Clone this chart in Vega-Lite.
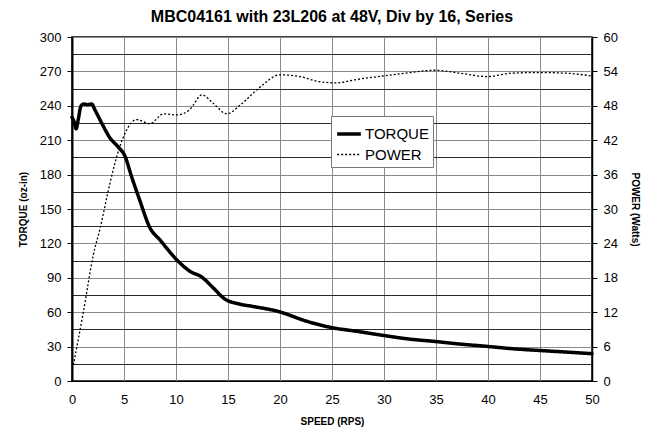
{
  "$schema": "https://vega.github.io/schema/vega-lite/v6.json",
  "width": 520,
  "height": 344,
  "autosize": {"type": "none"},
  "padding": {"left": 72, "top": 37, "right": 61, "bottom": 55},
  "background": "white",
  "title": {"text": "MBC04161 with 23L206 at 48V, Div by 16, Series", "fontSize": 16, "fontWeight": "bold", "font": "Liberation Sans", "color": "black", "anchor": "middle", "offset": 6},
  "config": {
    "font": "Liberation Sans",
    "view": {"stroke": "black", "strokeWidth": 1.5},
    "axis": {"labelColor": "black", "titleColor": "black", "labelFontSize": 13, "titleFontSize": 10, "titleFontWeight": "bold", "domainColor": "black", "tickColor": "black", "labelFlush": false, "labelOverlap": false}
  },
  "datasets": {
    "torque": [
      {"series": "TORQUE", "speed": 0, "torque": 230},
      {"series": "TORQUE", "speed": 0.2, "torque": 226},
      {"series": "TORQUE", "speed": 0.4, "torque": 220},
      {"series": "TORQUE", "speed": 0.6, "torque": 228},
      {"series": "TORQUE", "speed": 0.85, "torque": 239.5},
      {"series": "TORQUE", "speed": 1.1, "torque": 241.5},
      {"series": "TORQUE", "speed": 1.5, "torque": 241},
      {"series": "TORQUE", "speed": 1.9, "torque": 241.5},
      {"series": "TORQUE", "speed": 2.2, "torque": 236.5},
      {"series": "TORQUE", "speed": 2.85, "torque": 225},
      {"series": "TORQUE", "speed": 3.65, "torque": 212},
      {"series": "TORQUE", "speed": 4.45, "torque": 204},
      {"series": "TORQUE", "speed": 5.1, "torque": 196},
      {"series": "TORQUE", "speed": 5.7, "torque": 179},
      {"series": "TORQUE", "speed": 6.5, "torque": 158},
      {"series": "TORQUE", "speed": 7.5, "torque": 133.5},
      {"series": "TORQUE", "speed": 8.46, "torque": 123},
      {"series": "TORQUE", "speed": 10.06, "torque": 105.8},
      {"series": "TORQUE", "speed": 11.35, "torque": 95.6},
      {"series": "TORQUE", "speed": 12.47, "torque": 90.7},
      {"series": "TORQUE", "speed": 13.6, "torque": 81},
      {"series": "TORQUE", "speed": 14.7, "torque": 71.5},
      {"series": "TORQUE", "speed": 16.15, "torque": 67},
      {"series": "TORQUE", "speed": 17.4, "torque": 65},
      {"series": "TORQUE", "speed": 19.8, "torque": 60.7},
      {"series": "TORQUE", "speed": 22.6, "torque": 52},
      {"series": "TORQUE", "speed": 25, "torque": 46.5},
      {"series": "TORQUE", "speed": 27.4, "torque": 43.3},
      {"series": "TORQUE", "speed": 29.9, "torque": 39.8},
      {"series": "TORQUE", "speed": 32.3, "torque": 36.7},
      {"series": "TORQUE", "speed": 34.9, "torque": 34.5},
      {"series": "TORQUE", "speed": 37.3, "torque": 32.2},
      {"series": "TORQUE", "speed": 39.9, "torque": 30.2},
      {"series": "TORQUE", "speed": 42.3, "torque": 28.2},
      {"series": "TORQUE", "speed": 44.8, "torque": 26.7},
      {"series": "TORQUE", "speed": 47.4, "torque": 25.3},
      {"series": "TORQUE", "speed": 50, "torque": 23.8}
    ],
    "power": [
      {"series": "POWER", "speed": 0.13, "power": 2.8},
      {"series": "POWER", "speed": 1.1, "power": 12.1},
      {"series": "POWER", "speed": 2.05, "power": 22},
      {"series": "POWER", "speed": 2.7, "power": 26.6},
      {"series": "POWER", "speed": 3.65, "power": 34.5},
      {"series": "POWER", "speed": 4.6, "power": 40.9},
      {"series": "POWER", "speed": 5.26, "power": 43.8},
      {"series": "POWER", "speed": 6.2, "power": 45.6},
      {"series": "POWER", "speed": 7.5, "power": 44.9},
      {"series": "POWER", "speed": 8.8, "power": 46.6},
      {"series": "POWER", "speed": 10.07, "power": 46.4},
      {"series": "POWER", "speed": 11.3, "power": 47.3},
      {"series": "POWER", "speed": 12.5, "power": 49.9},
      {"series": "POWER", "speed": 13.6, "power": 48.4},
      {"series": "POWER", "speed": 14.9, "power": 46.6},
      {"series": "POWER", "speed": 16.15, "power": 48.1},
      {"series": "POWER", "speed": 18.1, "power": 51.3},
      {"series": "POWER", "speed": 20, "power": 53.4},
      {"series": "POWER", "speed": 21.9, "power": 53.1},
      {"series": "POWER", "speed": 23.8, "power": 52.2},
      {"series": "POWER", "speed": 25.4, "power": 52},
      {"series": "POWER", "speed": 27.4, "power": 52.6},
      {"series": "POWER", "speed": 29.9, "power": 53.2},
      {"series": "POWER", "speed": 32.5, "power": 53.8},
      {"series": "POWER", "speed": 34.9, "power": 54.2},
      {"series": "POWER", "speed": 37.3, "power": 53.7},
      {"series": "POWER", "speed": 39.9, "power": 53.1},
      {"series": "POWER", "speed": 42.3, "power": 53.7},
      {"series": "POWER", "speed": 44.8, "power": 53.8},
      {"series": "POWER", "speed": 47.4, "power": 53.7},
      {"series": "POWER", "speed": 50, "power": 53.2}
    ]
  },
  "layer": [
    {
      "data": {"name": "torque"},
      "mark": {"type": "line", "color": "black", "interpolate": "monotone", "strokeCap": "round", "strokeJoin": "round"},
      "encoding": {
        "x": {"field": "speed", "type": "quantitative", "scale": {"domain": [0, 50], "nice": false},
          "axis": {"title": "SPEED (RPS)", "values": [0,2.5,5,7.5,10,12.5,15,17.5,20,22.5,25,27.5,30,32.5,35,37.5,40,42.5,45,47.5,50],
            "labelExpr": "datum.value % 5 === 0 ? datum.label : ''", "ticks": true, "tickSize": 0, "labelPadding": 12, "titlePadding": 10,
            "grid": true, "gridOpacity": 1, "gridWidth": 1,
            "gridColor": {"condition": {"test": "datum.value % 5 === 0", "value": "#8a8a8a"}, "value": "#2a2a2a"}}},
        "y": {"field": "torque", "type": "quantitative", "scale": {"domain": [0, 300], "nice": false},
          "axis": {"title": "TORQUE (oz-in)", "orient": "left", "values": [0,15,30,45,60,75,90,105,120,135,150,165,180,195,210,225,240,255,270,285,300],
            "labelExpr": "datum.value % 30 === 0 ? datum.label : ''", "tickSize": 5,
            "tickOpacity": {"condition": {"test": "datum.value % 30 === 0", "value": 1}, "value": 0},
            "labelPadding": 6, "titlePadding": 11, "domainWidth": 2,
            "grid": true, "gridOpacity": 1, "gridWidth": 1,
            "gridColor": {"condition": {"test": "datum.value % 30 === 0", "value": "#8a8a8a"}, "value": "#2a2a2a"}}},
        "strokeDash": {"field": "series", "type": "nominal", "scale": {"domain": ["TORQUE", "POWER"], "range": [[1, 0], [2, 2]]},
          "legend": {"title": null, "orient": "none", "legendX": 259, "legendY": 79, "symbolType": "stroke", "symbolSize": 560, "symbolStrokeColor": "black",
            "labelFontSize": 15, "labelColor": "black", "labelOffset": 2, "fillColor": "white", "strokeColor": "#777", "padding": 4, "rowPadding": 0, "symbolOffset": 0}},
        "strokeWidth": {"field": "series", "type": "nominal", "scale": {"domain": ["TORQUE", "POWER"], "range": [3.5, 1.3]}}
      }
    },
    {
      "data": {"name": "power"},
      "mark": {"type": "line", "color": "black", "interpolate": "monotone"},
      "encoding": {
        "x": {"field": "speed", "type": "quantitative"},
        "y": {"field": "power", "type": "quantitative", "scale": {"domain": [0, 60], "nice": false},
          "axis": {"title": "POWER (Watts)", "orient": "right", "values": [0,6,12,18,24,30,36,42,48,54,60], "tickSize": 5, "labelPadding": 6, "titlePadding": 12, "grid": false, "domainWidth": 1.5}},
        "strokeDash": {"field": "series", "type": "nominal", "scale": {"domain": ["TORQUE", "POWER"], "range": [[1, 0], [2, 2]]}},
        "strokeWidth": {"field": "series", "type": "nominal", "scale": {"domain": ["TORQUE", "POWER"], "range": [3.5, 1.3]}}
      }
    }
  ],
  "resolve": {"scale": {"y": "independent"}}
}
